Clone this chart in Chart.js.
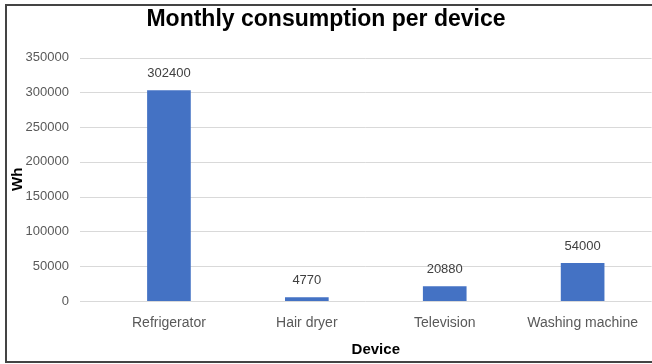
<!DOCTYPE html>
<html>
<head>
<meta charset="utf-8">
<script src="https://cdn.jsdelivr.net/npm/chart.js@4"></script>
<style>
  body { margin: 0; background: #fff; overflow: hidden; }
</style>
</head>
<body>
<canvas id="chart" width="652" height="364"></canvas>
<script>
const devices = ["Refrigerator", "Hair dryer", "Television", "Washing machine"];
const consumption = [302400, 4770, 20880, 54000];
const yTicks = [0, 50000, 100000, 150000, 200000, 250000, 300000, 350000];

const fontFamily = "'Liberation Sans', Arial, sans-serif";

// chart frame (left, top and bottom edges only, the right side is cut off)
const framePlugin = {
  id: "frame",
  beforeDraw(chart) {
    const ctx = chart.ctx;
    ctx.save();
    ctx.strokeStyle = "#444";
    ctx.lineWidth = 2;
    ctx.beginPath();
    ctx.moveTo(chart.width, 5);
    ctx.lineTo(6, 5);
    ctx.lineTo(6, 362);
    ctx.lineTo(chart.width, 362);
    ctx.stroke();
    ctx.restore();
  },
};

// grid lines start a bit left of the category band, like the Excel plot area
const gridPlugin = {
  id: "extendedGrid",
  beforeDatasetsDraw(chart) {
    const ctx = chart.ctx;
    const y = chart.scales.y;
    const area = chart.chartArea;
    ctx.save();
    ctx.strokeStyle = "#d9d9d9";
    ctx.lineWidth = 1;
    yTicks.forEach((v) => {
      const py = Math.round(y.getPixelForValue(v)) + 0.5;
      ctx.beginPath();
      ctx.moveTo(area.left - 20, py);
      ctx.lineTo(area.right, py);
      ctx.stroke();
    });
    ctx.restore();
  },
};

// value labels above each bar
const valueLabels = {
  id: "valueLabels",
  afterDatasetsDraw(chart) {
    const ctx = chart.ctx;
    const meta = chart.getDatasetMeta(0);
    ctx.save();
    ctx.fillStyle = "#404040";
    ctx.font = "13px " + fontFamily;
    ctx.textAlign = "center";
    ctx.textBaseline = "middle";
    meta.data.forEach((bar, i) => {
      ctx.fillText(String(consumption[i]), bar.x, bar.y - 17);
    });
    ctx.restore();
  },
};

new Chart(document.getElementById("chart"), {
  type: "bar",
  data: {
    labels: devices,
    datasets: [
      {
        label: "Wh",
        data: consumption,
        backgroundColor: "#4472C4",
        barThickness: 43,
      },
    ],
  },
  options: {
    responsive: false,
    animation: false,
    layout: { padding: { left: 0, right: 0, top: 0, bottom: 5 } },
    plugins: {
      legend: { display: false },
      tooltip: { enabled: false },
      title: {
        display: true,
        text: "Monthly consumption per device",
        color: "#000",
        font: { family: fontFamily, size: 23, weight: "bold" },
        padding: { top: 6, bottom: 24 },
      },
    },
    scales: {
      x: {
        grid: { display: false, drawTicks: false },
        border: { display: false },
        ticks: {
          color: "#595959",
          font: { family: fontFamily, size: 14 },
          padding: 14,
          maxRotation: 0,
        },
        title: {
          display: true,
          text: "Device",
          color: "#000",
          font: { family: fontFamily, size: 15, weight: "bold" },
          padding: 0,
        },
        afterFit(scale) {
          scale.height = 58;
        },
      },
      y: {
        min: 0,
        max: 350000,
        grid: { display: false, drawTicks: false },
        border: { display: false },
        ticks: {
          stepSize: 50000,
          color: "#595959",
          font: { family: fontFamily, size: 13 },
          padding: 31,
          callback: (v) => String(v),
        },
        title: {
          display: true,
          text: "Wh",
          color: "#000",
          font: { family: fontFamily, size: 15, weight: "bold" },
          padding: { top: 9, bottom: 0 },
        },
        afterFit(scale) {
          scale.width = 100;
        },
      },
    },
  },
  plugins: [framePlugin, gridPlugin, valueLabels],
});
</script>
</body>
</html>
